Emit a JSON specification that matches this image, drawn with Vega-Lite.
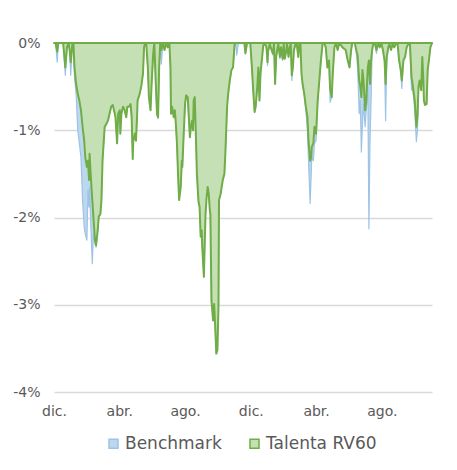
{
  "$schema": "https://vega.github.io/schema/vega-lite/v6.json",
  "width": 378,
  "height": 349,
  "autosize": "none",
  "padding": {"left": 54, "top": 43, "right": 25, "bottom": 78},
  "background": "white",
  "config": {"view": {"stroke": null}, "font": "DejaVu Sans"},
  "data": {"values": [
    {"d":"2017-12-01","Benchmark":0,"Talenta RV60":0},
    {"d":"2017-12-04","Benchmark":0,"Talenta RV60":0},
    {"d":"2017-12-07","Benchmark":-0.0022,"Talenta RV60":-0.001},
    {"d":"2017-12-09","Benchmark":0,"Talenta RV60":0},
    {"d":"2017-12-18","Benchmark":0,"Talenta RV60":0},
    {"d":"2017-12-22","Benchmark":-0.0037,"Talenta RV60":-0.0028},
    {"d":"2017-12-25","Benchmark":-0.0005,"Talenta RV60":-0.0005},
    {"d":"2017-12-28","Benchmark":0,"Talenta RV60":0},
    {"d":"2017-12-30","Benchmark":-0.0008,"Talenta RV60":-0.0008},
    {"d":"2018-01-01","Benchmark":-0.0037,"Talenta RV60":-0.0022},
    {"d":"2018-01-04","Benchmark":-0.0001,"Talenta RV60":-0.0001},
    {"d":"2018-01-06","Benchmark":0,"Talenta RV60":0},
    {"d":"2018-01-08","Benchmark":-0.0039,"Talenta RV60":-0.0028},
    {"d":"2018-01-11","Benchmark":-0.0058,"Talenta RV60":-0.0047},
    {"d":"2018-01-14","Benchmark":-0.01,"Talenta RV60":-0.0058},
    {"d":"2018-01-17","Benchmark":-0.0115,"Talenta RV60":-0.0066},
    {"d":"2018-01-20","Benchmark":-0.0131,"Talenta RV60":-0.0077},
    {"d":"2018-01-23","Benchmark":-0.018,"Talenta RV60":-0.0096},
    {"d":"2018-01-26","Benchmark":-0.0211,"Talenta RV60":-0.0112},
    {"d":"2018-01-28","Benchmark":-0.0219,"Talenta RV60":-0.0131},
    {"d":"2018-01-31","Benchmark":-0.0226,"Talenta RV60":-0.0142},
    {"d":"2018-02-02","Benchmark":-0.0169,"Talenta RV60":-0.0135},
    {"d":"2018-02-04","Benchmark":-0.0188,"Talenta RV60":-0.0157},
    {"d":"2018-02-05","Benchmark":-0.0165,"Talenta RV60":-0.0127},
    {"d":"2018-02-07","Benchmark":-0.0203,"Talenta RV60":-0.015},
    {"d":"2018-02-10","Benchmark":-0.0253,"Talenta RV60":-0.018},
    {"d":"2018-02-12","Benchmark":-0.0219,"Talenta RV60":-0.0199},
    {"d":"2018-02-15","Benchmark":-0.023,"Talenta RV60":-0.0226},
    {"d":"2018-02-17","Benchmark":-0.0234,"Talenta RV60":-0.0232},
    {"d":"2018-02-20","Benchmark":-0.0215,"Talenta RV60":-0.0215},
    {"d":"2018-02-22","Benchmark":-0.0199,"Talenta RV60":-0.0199},
    {"d":"2018-02-25","Benchmark":-0.0196,"Talenta RV60":-0.0196},
    {"d":"2018-02-27","Benchmark":-0.018,"Talenta RV60":-0.018},
    {"d":"2018-03-01","Benchmark":-0.0135,"Talenta RV60":-0.0135},
    {"d":"2018-03-03","Benchmark":-0.0115,"Talenta RV60":-0.0115},
    {"d":"2018-03-05","Benchmark":-0.0096,"Talenta RV60":-0.0096},
    {"d":"2018-03-08","Benchmark":-0.0093,"Talenta RV60":-0.0093},
    {"d":"2018-03-11","Benchmark":-0.0089,"Talenta RV60":-0.0089},
    {"d":"2018-03-14","Benchmark":-0.0081,"Talenta RV60":-0.0081},
    {"d":"2018-03-17","Benchmark":-0.0073,"Talenta RV60":-0.0073},
    {"d":"2018-03-20","Benchmark":-0.0071,"Talenta RV60":-0.0071},
    {"d":"2018-03-23","Benchmark":-0.0079,"Talenta RV60":-0.0079},
    {"d":"2018-03-25","Benchmark":-0.0085,"Talenta RV60":-0.0085},
    {"d":"2018-03-28","Benchmark":-0.0115,"Talenta RV60":-0.0115},
    {"d":"2018-03-30","Benchmark":-0.0081,"Talenta RV60":-0.0081},
    {"d":"2018-04-02","Benchmark":-0.0077,"Talenta RV60":-0.0077},
    {"d":"2018-04-03","Benchmark":-0.0104,"Talenta RV60":-0.0104},
    {"d":"2018-04-05","Benchmark":-0.0081,"Talenta RV60":-0.0081},
    {"d":"2018-04-08","Benchmark":-0.0073,"Talenta RV60":-0.0073},
    {"d":"2018-04-11","Benchmark":-0.0077,"Talenta RV60":-0.0077},
    {"d":"2018-04-14","Benchmark":-0.0085,"Talenta RV60":-0.0085},
    {"d":"2018-04-16","Benchmark":-0.0073,"Talenta RV60":-0.0073},
    {"d":"2018-04-19","Benchmark":-0.0073,"Talenta RV60":-0.0073},
    {"d":"2018-04-22","Benchmark":-0.007,"Talenta RV60":-0.007},
    {"d":"2018-04-24","Benchmark":-0.0085,"Talenta RV60":-0.0085},
    {"d":"2018-04-26","Benchmark":-0.0133,"Talenta RV60":-0.0133},
    {"d":"2018-04-27","Benchmark":-0.0112,"Talenta RV60":-0.0112},
    {"d":"2018-04-30","Benchmark":-0.0104,"Talenta RV60":-0.0104},
    {"d":"2018-05-02","Benchmark":-0.0112,"Talenta RV60":-0.0112},
    {"d":"2018-05-04","Benchmark":-0.0085,"Talenta RV60":-0.0085},
    {"d":"2018-05-05","Benchmark":-0.0066,"Talenta RV60":-0.0066},
    {"d":"2018-05-09","Benchmark":-0.0058,"Talenta RV60":-0.0058},
    {"d":"2018-05-12","Benchmark":-0.0049,"Talenta RV60":-0.0049},
    {"d":"2018-05-15","Benchmark":-0.0035,"Talenta RV60":-0.0035},
    {"d":"2018-05-17","Benchmark":-0.0005,"Talenta RV60":-0.0005},
    {"d":"2018-05-19","Benchmark":0,"Talenta RV60":0},
    {"d":"2018-05-21","Benchmark":0,"Talenta RV60":0},
    {"d":"2018-05-24","Benchmark":-0.0028,"Talenta RV60":-0.0028},
    {"d":"2018-05-26","Benchmark":-0.0062,"Talenta RV60":-0.0062},
    {"d":"2018-05-29","Benchmark":-0.0077,"Talenta RV60":-0.0077},
    {"d":"2018-05-31","Benchmark":-0.0047,"Talenta RV60":-0.0047},
    {"d":"2018-06-03","Benchmark":-0.0012,"Talenta RV60":-0.0012},
    {"d":"2018-06-05","Benchmark":0,"Talenta RV60":0},
    {"d":"2018-06-08","Benchmark":-0.0052,"Talenta RV60":-0.005},
    {"d":"2018-06-10","Benchmark":-0.0083,"Talenta RV60":-0.0081},
    {"d":"2018-06-12","Benchmark":-0.0087,"Talenta RV60":-0.0085},
    {"d":"2018-06-14","Benchmark":-0.0028,"Talenta RV60":-0.0028},
    {"d":"2018-06-16","Benchmark":0,"Talenta RV60":0},
    {"d":"2018-06-18","Benchmark":-0.0024,"Talenta RV60":-0.0008},
    {"d":"2018-06-21","Benchmark":0,"Talenta RV60":0},
    {"d":"2018-06-24","Benchmark":-0.0008,"Talenta RV60":-0.0008},
    {"d":"2018-06-27","Benchmark":0,"Talenta RV60":0},
    {"d":"2018-06-30","Benchmark":-0.0005,"Talenta RV60":-0.0005},
    {"d":"2018-07-03","Benchmark":0,"Talenta RV60":0},
    {"d":"2018-07-05","Benchmark":-0.0028,"Talenta RV60":-0.0028},
    {"d":"2018-07-06","Benchmark":-0.0081,"Talenta RV60":-0.0081},
    {"d":"2018-07-08","Benchmark":-0.0073,"Talenta RV60":-0.0073},
    {"d":"2018-07-11","Benchmark":-0.0085,"Talenta RV60":-0.0085},
    {"d":"2018-07-13","Benchmark":-0.0077,"Talenta RV60":-0.0077},
    {"d":"2018-07-15","Benchmark":-0.0093,"Talenta RV60":-0.0093},
    {"d":"2018-07-17","Benchmark":-0.0115,"Talenta RV60":-0.0115},
    {"d":"2018-07-19","Benchmark":-0.015,"Talenta RV60":-0.015},
    {"d":"2018-07-21","Benchmark":-0.018,"Talenta RV60":-0.018},
    {"d":"2018-07-24","Benchmark":-0.0165,"Talenta RV60":-0.0165},
    {"d":"2018-07-26","Benchmark":-0.0135,"Talenta RV60":-0.0135},
    {"d":"2018-07-27","Benchmark":-0.0142,"Talenta RV60":-0.0142},
    {"d":"2018-07-29","Benchmark":-0.0112,"Talenta RV60":-0.0112},
    {"d":"2018-08-01","Benchmark":-0.007,"Talenta RV60":-0.007},
    {"d":"2018-08-03","Benchmark":-0.006,"Talenta RV60":-0.006},
    {"d":"2018-08-06","Benchmark":-0.0062,"Talenta RV60":-0.0062},
    {"d":"2018-08-08","Benchmark":-0.0085,"Talenta RV60":-0.0085},
    {"d":"2018-08-10","Benchmark":-0.0108,"Talenta RV60":-0.0108},
    {"d":"2018-08-12","Benchmark":-0.0096,"Talenta RV60":-0.0096},
    {"d":"2018-08-14","Benchmark":-0.0089,"Talenta RV60":-0.0089},
    {"d":"2018-08-16","Benchmark":-0.01,"Talenta RV60":-0.01},
    {"d":"2018-08-17","Benchmark":-0.0066,"Talenta RV60":-0.0066},
    {"d":"2018-08-19","Benchmark":-0.0062,"Talenta RV60":-0.0062},
    {"d":"2018-08-21","Benchmark":-0.0104,"Talenta RV60":-0.0104},
    {"d":"2018-08-23","Benchmark":-0.015,"Talenta RV60":-0.015},
    {"d":"2018-08-26","Benchmark":-0.0182,"Talenta RV60":-0.0182},
    {"d":"2018-08-28","Benchmark":-0.0188,"Talenta RV60":-0.0188},
    {"d":"2018-08-30","Benchmark":-0.0222,"Talenta RV60":-0.0222},
    {"d":"2018-09-01","Benchmark":-0.0215,"Talenta RV60":-0.0215},
    {"d":"2018-09-02","Benchmark":-0.0234,"Talenta RV60":-0.0234},
    {"d":"2018-09-05","Benchmark":-0.0268,"Talenta RV60":-0.0268},
    {"d":"2018-09-06","Benchmark":-0.0242,"Talenta RV60":-0.0242},
    {"d":"2018-09-08","Benchmark":-0.0196,"Talenta RV60":-0.0196},
    {"d":"2018-09-10","Benchmark":-0.0177,"Talenta RV60":-0.0177},
    {"d":"2018-09-12","Benchmark":-0.0165,"Talenta RV60":-0.0165},
    {"d":"2018-09-14","Benchmark":-0.0173,"Talenta RV60":-0.0173},
    {"d":"2018-09-16","Benchmark":-0.0192,"Talenta RV60":-0.0192},
    {"d":"2018-09-17","Benchmark":-0.0196,"Talenta RV60":-0.0196},
    {"d":"2018-09-19","Benchmark":-0.0295,"Talenta RV60":-0.0295},
    {"d":"2018-09-22","Benchmark":-0.0318,"Talenta RV60":-0.0318},
    {"d":"2018-09-24","Benchmark":-0.0299,"Talenta RV60":-0.0299},
    {"d":"2018-09-26","Benchmark":-0.0326,"Talenta RV60":-0.0326},
    {"d":"2018-09-28","Benchmark":-0.0356,"Talenta RV60":-0.0356},
    {"d":"2018-09-30","Benchmark":-0.0352,"Talenta RV60":-0.0352},
    {"d":"2018-10-02","Benchmark":-0.0303,"Talenta RV60":-0.0303},
    {"d":"2018-10-03","Benchmark":-0.018,"Talenta RV60":-0.018},
    {"d":"2018-10-06","Benchmark":-0.0173,"Talenta RV60":-0.0173},
    {"d":"2018-10-08","Benchmark":-0.0165,"Talenta RV60":-0.0165},
    {"d":"2018-10-10","Benchmark":-0.0157,"Talenta RV60":-0.0157},
    {"d":"2018-10-13","Benchmark":-0.015,"Talenta RV60":-0.015},
    {"d":"2018-10-15","Benchmark":-0.0123,"Talenta RV60":-0.0123},
    {"d":"2018-10-18","Benchmark":-0.0073,"Talenta RV60":-0.0073},
    {"d":"2018-10-20","Benchmark":-0.0058,"Talenta RV60":-0.0058},
    {"d":"2018-10-23","Benchmark":-0.0043,"Talenta RV60":-0.0043},
    {"d":"2018-10-26","Benchmark":-0.0031,"Talenta RV60":-0.0031},
    {"d":"2018-10-29","Benchmark":-0.0028,"Talenta RV60":-0.0028},
    {"d":"2018-11-01","Benchmark":-0.0001,"Talenta RV60":-0.0001},
    {"d":"2018-11-03","Benchmark":0,"Talenta RV60":0},
    {"d":"2018-11-05","Benchmark":-0.0014,"Talenta RV60":0},
    {"d":"2018-11-08","Benchmark":0,"Talenta RV60":0},
    {"d":"2018-11-19","Benchmark":0,"Talenta RV60":0},
    {"d":"2018-11-21","Benchmark":-0.0012,"Talenta RV60":-0.0012},
    {"d":"2018-11-24","Benchmark":0,"Talenta RV60":0},
    {"d":"2018-11-30","Benchmark":0,"Talenta RV60":0},
    {"d":"2018-12-03","Benchmark":-0.0028,"Talenta RV60":-0.0028},
    {"d":"2018-12-05","Benchmark":-0.005,"Talenta RV60":-0.005},
    {"d":"2018-12-08","Benchmark":-0.0079,"Talenta RV60":-0.0079},
    {"d":"2018-12-10","Benchmark":-0.0073,"Talenta RV60":-0.0073},
    {"d":"2018-12-13","Benchmark":-0.005,"Talenta RV60":-0.005},
    {"d":"2018-12-15","Benchmark":-0.0028,"Talenta RV60":-0.0028},
    {"d":"2018-12-17","Benchmark":-0.0066,"Talenta RV60":-0.0066},
    {"d":"2018-12-19","Benchmark":-0.0035,"Talenta RV60":-0.0035},
    {"d":"2018-12-22","Benchmark":-0.0016,"Talenta RV60":-0.0016},
    {"d":"2018-12-24","Benchmark":-0.0003,"Talenta RV60":-0.0003},
    {"d":"2018-12-27","Benchmark":0,"Talenta RV60":0},
    {"d":"2018-12-30","Benchmark":-0.0005,"Talenta RV60":-0.0005},
    {"d":"2019-01-01","Benchmark":-0.0026,"Talenta RV60":-0.0022},
    {"d":"2019-01-02","Benchmark":-0.001,"Talenta RV60":-0.001},
    {"d":"2019-01-05","Benchmark":-0.0001,"Talenta RV60":-0.0001},
    {"d":"2019-01-08","Benchmark":-0.0007,"Talenta RV60":-0.0007},
    {"d":"2019-01-11","Benchmark":-0.0014,"Talenta RV60":-0.0012},
    {"d":"2019-01-13","Benchmark":-0.0001,"Talenta RV60":-0.0001},
    {"d":"2019-01-15","Benchmark":-0.0047,"Talenta RV60":-0.0047},
    {"d":"2019-01-17","Benchmark":-0.0016,"Talenta RV60":-0.0016},
    {"d":"2019-01-19","Benchmark":-0.0008,"Talenta RV60":-0.0008},
    {"d":"2019-01-21","Benchmark":-0.0001,"Talenta RV60":-0.0001},
    {"d":"2019-01-24","Benchmark":-0.0018,"Talenta RV60":-0.0016},
    {"d":"2019-01-26","Benchmark":-0.0005,"Talenta RV60":-0.0005},
    {"d":"2019-01-29","Benchmark":-0.002,"Talenta RV60":-0.0018},
    {"d":"2019-01-31","Benchmark":-0.0001,"Talenta RV60":-0.0001},
    {"d":"2019-02-02","Benchmark":-0.0018,"Talenta RV60":-0.0018},
    {"d":"2019-02-05","Benchmark":-0.0008,"Talenta RV60":-0.0008},
    {"d":"2019-02-06","Benchmark":-0.0001,"Talenta RV60":-0.0001},
    {"d":"2019-02-09","Benchmark":-0.0016,"Talenta RV60":-0.0016},
    {"d":"2019-02-11","Benchmark":-0.0005,"Talenta RV60":-0.0005},
    {"d":"2019-02-13","Benchmark":-0.0001,"Talenta RV60":-0.0001},
    {"d":"2019-02-15","Benchmark":-0.0043,"Talenta RV60":-0.0037},
    {"d":"2019-02-17","Benchmark":-0.0028,"Talenta RV60":-0.0028},
    {"d":"2019-02-19","Benchmark":-0.0008,"Talenta RV60":-0.0008},
    {"d":"2019-02-22","Benchmark":-0.0001,"Talenta RV60":-0.0001},
    {"d":"2019-02-24","Benchmark":0,"Talenta RV60":0},
    {"d":"2019-02-27","Benchmark":-0.0016,"Talenta RV60":-0.0016},
    {"d":"2019-03-01","Benchmark":0,"Talenta RV60":0},
    {"d":"2019-03-03","Benchmark":0,"Talenta RV60":0},
    {"d":"2019-03-05","Benchmark":-0.0035,"Talenta RV60":-0.0035},
    {"d":"2019-03-07","Benchmark":-0.0047,"Talenta RV60":-0.0047},
    {"d":"2019-03-10","Benchmark":-0.0058,"Talenta RV60":-0.0058},
    {"d":"2019-03-13","Benchmark":-0.0077,"Talenta RV60":-0.0073},
    {"d":"2019-03-16","Benchmark":-0.01,"Talenta RV60":-0.0085},
    {"d":"2019-03-18","Benchmark":-0.0135,"Talenta RV60":-0.0112},
    {"d":"2019-03-21","Benchmark":-0.0184,"Talenta RV60":-0.0135},
    {"d":"2019-03-23","Benchmark":-0.015,"Talenta RV60":-0.0131},
    {"d":"2019-03-24","Benchmark":-0.0131,"Talenta RV60":-0.0119},
    {"d":"2019-03-27","Benchmark":-0.0135,"Talenta RV60":-0.0115},
    {"d":"2019-03-29","Benchmark":-0.0115,"Talenta RV60":-0.0096},
    {"d":"2019-04-01","Benchmark":-0.0112,"Talenta RV60":-0.0104},
    {"d":"2019-04-04","Benchmark":-0.0066,"Talenta RV60":-0.0066},
    {"d":"2019-04-07","Benchmark":-0.0043,"Talenta RV60":-0.0043},
    {"d":"2019-04-10","Benchmark":-0.002,"Talenta RV60":-0.002},
    {"d":"2019-04-13","Benchmark":-0.0001,"Talenta RV60":-0.0001},
    {"d":"2019-04-16","Benchmark":0,"Talenta RV60":0},
    {"d":"2019-04-19","Benchmark":-0.0005,"Talenta RV60":-0.0005},
    {"d":"2019-04-22","Benchmark":-0.0028,"Talenta RV60":-0.0028},
    {"d":"2019-04-25","Benchmark":-0.002,"Talenta RV60":-0.002},
    {"d":"2019-04-27","Benchmark":-0.0068,"Talenta RV60":-0.0052},
    {"d":"2019-04-30","Benchmark":-0.0062,"Talenta RV60":-0.0062},
    {"d":"2019-05-02","Benchmark":-0.0035,"Talenta RV60":-0.0035},
    {"d":"2019-05-05","Benchmark":-0.0005,"Talenta RV60":-0.0005},
    {"d":"2019-05-08","Benchmark":0,"Talenta RV60":0},
    {"d":"2019-05-11","Benchmark":-0.0008,"Talenta RV60":-0.0008},
    {"d":"2019-05-14","Benchmark":0,"Talenta RV60":0},
    {"d":"2019-05-20","Benchmark":-0.0005,"Talenta RV60":-0.0005},
    {"d":"2019-05-26","Benchmark":-0.0008,"Talenta RV60":-0.0008},
    {"d":"2019-05-29","Benchmark":-0.0018,"Talenta RV60":-0.0018},
    {"d":"2019-06-02","Benchmark":-0.0028,"Talenta RV60":-0.0028},
    {"d":"2019-06-05","Benchmark":-0.0008,"Talenta RV60":-0.0008},
    {"d":"2019-06-07","Benchmark":0,"Talenta RV60":0},
    {"d":"2019-06-12","Benchmark":0,"Talenta RV60":0},
    {"d":"2019-06-14","Benchmark":-0.0007,"Talenta RV60":-0.0007},
    {"d":"2019-06-17","Benchmark":-0.0028,"Talenta RV60":-0.0014},
    {"d":"2019-06-20","Benchmark":-0.0081,"Talenta RV60":-0.0043},
    {"d":"2019-06-22","Benchmark":-0.0066,"Talenta RV60":-0.005},
    {"d":"2019-06-24","Benchmark":-0.0125,"Talenta RV60":-0.0062},
    {"d":"2019-06-26","Benchmark":-0.0093,"Talenta RV60":-0.0031},
    {"d":"2019-06-28","Benchmark":-0.007,"Talenta RV60":-0.0043},
    {"d":"2019-07-01","Benchmark":-0.0096,"Talenta RV60":-0.0077},
    {"d":"2019-07-03","Benchmark":-0.0077,"Talenta RV60":-0.0066},
    {"d":"2019-07-06","Benchmark":-0.005,"Talenta RV60":-0.0028},
    {"d":"2019-07-08","Benchmark":-0.0213,"Talenta RV60":-0.002},
    {"d":"2019-07-10","Benchmark":-0.0112,"Talenta RV60":-0.0047},
    {"d":"2019-07-12","Benchmark":-0.0066,"Talenta RV60":-0.002},
    {"d":"2019-07-14","Benchmark":-0.0008,"Talenta RV60":-0.0008},
    {"d":"2019-07-16","Benchmark":-0.0001,"Talenta RV60":-0.0001},
    {"d":"2019-07-19","Benchmark":0,"Talenta RV60":0},
    {"d":"2019-07-22","Benchmark":-0.0012,"Talenta RV60":-0.0008},
    {"d":"2019-07-25","Benchmark":0,"Talenta RV60":0},
    {"d":"2019-07-28","Benchmark":-0.0005,"Talenta RV60":-0.0005},
    {"d":"2019-07-31","Benchmark":0,"Talenta RV60":0},
    {"d":"2019-08-03","Benchmark":-0.0008,"Talenta RV60":-0.0008},
    {"d":"2019-08-06","Benchmark":-0.002,"Talenta RV60":-0.002},
    {"d":"2019-08-08","Benchmark":-0.0089,"Talenta RV60":-0.0047},
    {"d":"2019-08-10","Benchmark":-0.0016,"Talenta RV60":-0.0016},
    {"d":"2019-08-13","Benchmark":-0.0005,"Talenta RV60":-0.0005},
    {"d":"2019-08-15","Benchmark":-0.0001,"Talenta RV60":-0.0001},
    {"d":"2019-08-18","Benchmark":-0.0008,"Talenta RV60":-0.0008},
    {"d":"2019-08-21","Benchmark":-0.0001,"Talenta RV60":-0.0001},
    {"d":"2019-08-24","Benchmark":-0.0005,"Talenta RV60":-0.0005},
    {"d":"2019-08-27","Benchmark":-0.0001,"Talenta RV60":-0.0001},
    {"d":"2019-08-30","Benchmark":0,"Talenta RV60":0},
    {"d":"2019-09-02","Benchmark":-0.002,"Talenta RV60":-0.002},
    {"d":"2019-09-05","Benchmark":-0.0031,"Talenta RV60":-0.0031},
    {"d":"2019-09-07","Benchmark":-0.0052,"Talenta RV60":-0.0043},
    {"d":"2019-09-10","Benchmark":-0.002,"Talenta RV60":-0.002},
    {"d":"2019-09-13","Benchmark":-0.0016,"Talenta RV60":-0.0016},
    {"d":"2019-09-16","Benchmark":-0.0005,"Talenta RV60":-0.0005},
    {"d":"2019-09-20","Benchmark":0,"Talenta RV60":0},
    {"d":"2019-09-22","Benchmark":0,"Talenta RV60":0},
    {"d":"2019-09-25","Benchmark":-0.0054,"Talenta RV60":-0.0039},
    {"d":"2019-09-27","Benchmark":-0.005,"Talenta RV60":-0.0047},
    {"d":"2019-10-01","Benchmark":-0.0077,"Talenta RV60":-0.0066},
    {"d":"2019-10-04","Benchmark":-0.0113,"Talenta RV60":-0.0096},
    {"d":"2019-10-06","Benchmark":-0.01,"Talenta RV60":-0.0085},
    {"d":"2019-10-08","Benchmark":-0.005,"Talenta RV60":-0.005},
    {"d":"2019-10-10","Benchmark":-0.0043,"Talenta RV60":-0.0043},
    {"d":"2019-10-13","Benchmark":-0.0054,"Talenta RV60":-0.0054},
    {"d":"2019-10-15","Benchmark":-0.0016,"Talenta RV60":-0.0016},
    {"d":"2019-10-17","Benchmark":-0.0043,"Talenta RV60":-0.0043},
    {"d":"2019-10-18","Benchmark":-0.0066,"Talenta RV60":-0.0066},
    {"d":"2019-10-20","Benchmark":-0.0071,"Talenta RV60":-0.0071},
    {"d":"2019-10-23","Benchmark":-0.007,"Talenta RV60":-0.007},
    {"d":"2019-10-25","Benchmark":-0.0031,"Talenta RV60":-0.0031},
    {"d":"2019-10-28","Benchmark":-0.0016,"Talenta RV60":-0.0016},
    {"d":"2019-10-30","Benchmark":-0.0005,"Talenta RV60":-0.0005},
    {"d":"2019-11-02","Benchmark":0,"Talenta RV60":0}
  ]},
  "transform": [{"fold": ["Benchmark", "Talenta RV60"], "as": ["serie", "valor"]}],
  "encoding": {
    "x": {
      "field": "d", "type": "temporal",
      "scale": {"type": "utc", "nice": false, "domain": [{"year": 2017, "month": 12, "date": 1, "utc": true}, {"year": 2019, "month": 11, "date": 2, "utc": true}]},
      "axis": {
        "title": null, "grid": false, "domain": false, "ticks": false,
        "labelPadding": 12, "labelFontSize": 14, "labelColor": "#595959",
        "labelFlush": false, "labelOverlap": false,
        "values": [
          {"year": 2017, "month": 12, "date": 1, "utc": true},
          {"year": 2018, "month": 4, "date": 1, "utc": true},
          {"year": 2018, "month": 8, "date": 1, "utc": true},
          {"year": 2018, "month": 12, "date": 1, "utc": true},
          {"year": 2019, "month": 4, "date": 1, "utc": true},
          {"year": 2019, "month": 8, "date": 1, "utc": true}
        ],
        "labelExpr": "['ene.','feb.','mar.','abr.','may.','jun.','jul.','ago.','sep.','oct.','nov.','dic.'][utcmonth(datum.value)]"
      }
    },
    "y": {
      "field": "valor", "type": "quantitative", "stack": null,
      "scale": {"domain": [-0.04, 0], "nice": false},
      "axis": {
        "title": null, "domain": false, "ticks": false,
        "values": [-0.04, -0.03, -0.02, -0.01, 0],
        "format": ".0%",
        "labelExpr": "replace(datum.label, '\u2212', '-')",
        "grid": true, "gridColor": "#D9D9D9", "gridWidth": 1.5,
        "labelPadding": 14, "labelFontSize": 14, "labelColor": "#595959"
      }
    },
    "fill": {
      "field": "serie", "type": "nominal",
      "scale": {"domain": ["Benchmark", "Talenta RV60"], "range": ["#BDD7EE", "#C5E0B4"]},
      "legend": {"orient": "none", "legendX": 51, "legendY": 392, "direction": "horizontal", "title": null, "symbolType": "square", "symbolSize": 81, "symbolStrokeWidth": 1.5, "labelFontSize": 17, "labelColor": "#595959", "columnPadding": 24, "labelOffset": 3}
    },
    "stroke": {
      "field": "serie", "type": "nominal",
      "scale": {"domain": ["Benchmark", "Talenta RV60"], "range": ["#9DC3E6", "#70AD47"]},
      "legend": {"orient": "none", "legendX": 51, "legendY": 392, "direction": "horizontal", "title": null, "symbolType": "square", "symbolSize": 81, "symbolStrokeWidth": 1.5, "labelFontSize": 17, "labelColor": "#595959", "columnPadding": 24, "labelOffset": 3}
    }
  },
  "layer": [
    {
      "transform": [{"filter": "datum.serie === 'Benchmark'"}],
      "mark": {"type": "area", "strokeWidth": 1.2, "strokeJoin": "round", "opacity": 1}
    },
    {
      "transform": [{"filter": "datum.serie === 'Talenta RV60'"}],
      "mark": {"type": "area", "strokeWidth": 2, "strokeJoin": "round", "opacity": 1}
    }
  ]
}
